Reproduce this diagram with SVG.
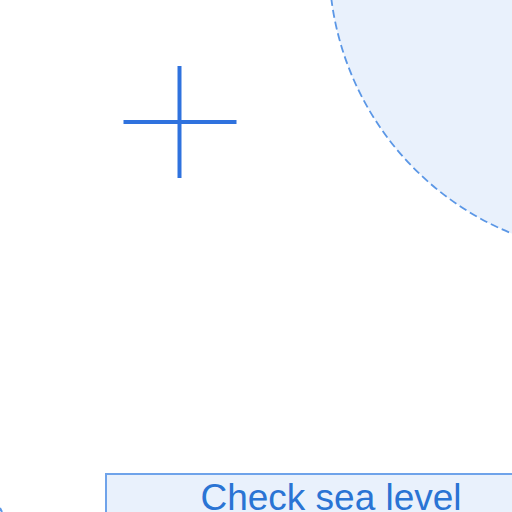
<svg xmlns="http://www.w3.org/2000/svg" width="512" height="512" viewBox="0 0 512 512">
<style>
.zone{fill:#e9f1fc;stroke:#5b97e6;stroke-width:1.8;stroke-dasharray:8 4}
.box{fill:#e9f1fc;stroke:#6fa3ea;stroke-width:2}
.lbl{font-family:"Liberation Sans",Arial,sans-serif;font-size:37px;fill:#2a74d4;text-anchor:middle}
.mark{stroke:#2f72de;stroke-width:4;fill:none}
</style>
<rect width="512" height="512" fill="#ffffff"/>
<g id="zone">
<circle class="zone" cx="622" cy="-38" r="293"/>
</g>
<g id="crosshair">
<line class="mark" x1="179.5" y1="66" x2="179.5" y2="178"/>
<line class="mark" x1="123.5" y1="122" x2="236.5" y2="122"/>
</g>
<g id="edge-node">
<path d="M0 508 L2 512" stroke="#5b97e6" stroke-width="2" fill="none"/>
</g>
<g id="check-sea-level">
<rect class="box" x="106" y="474" width="430" height="80"/>
<text class="lbl" x="331" y="510">Check sea level</text>
</g>
<g id="connectors"></g>
</svg>
